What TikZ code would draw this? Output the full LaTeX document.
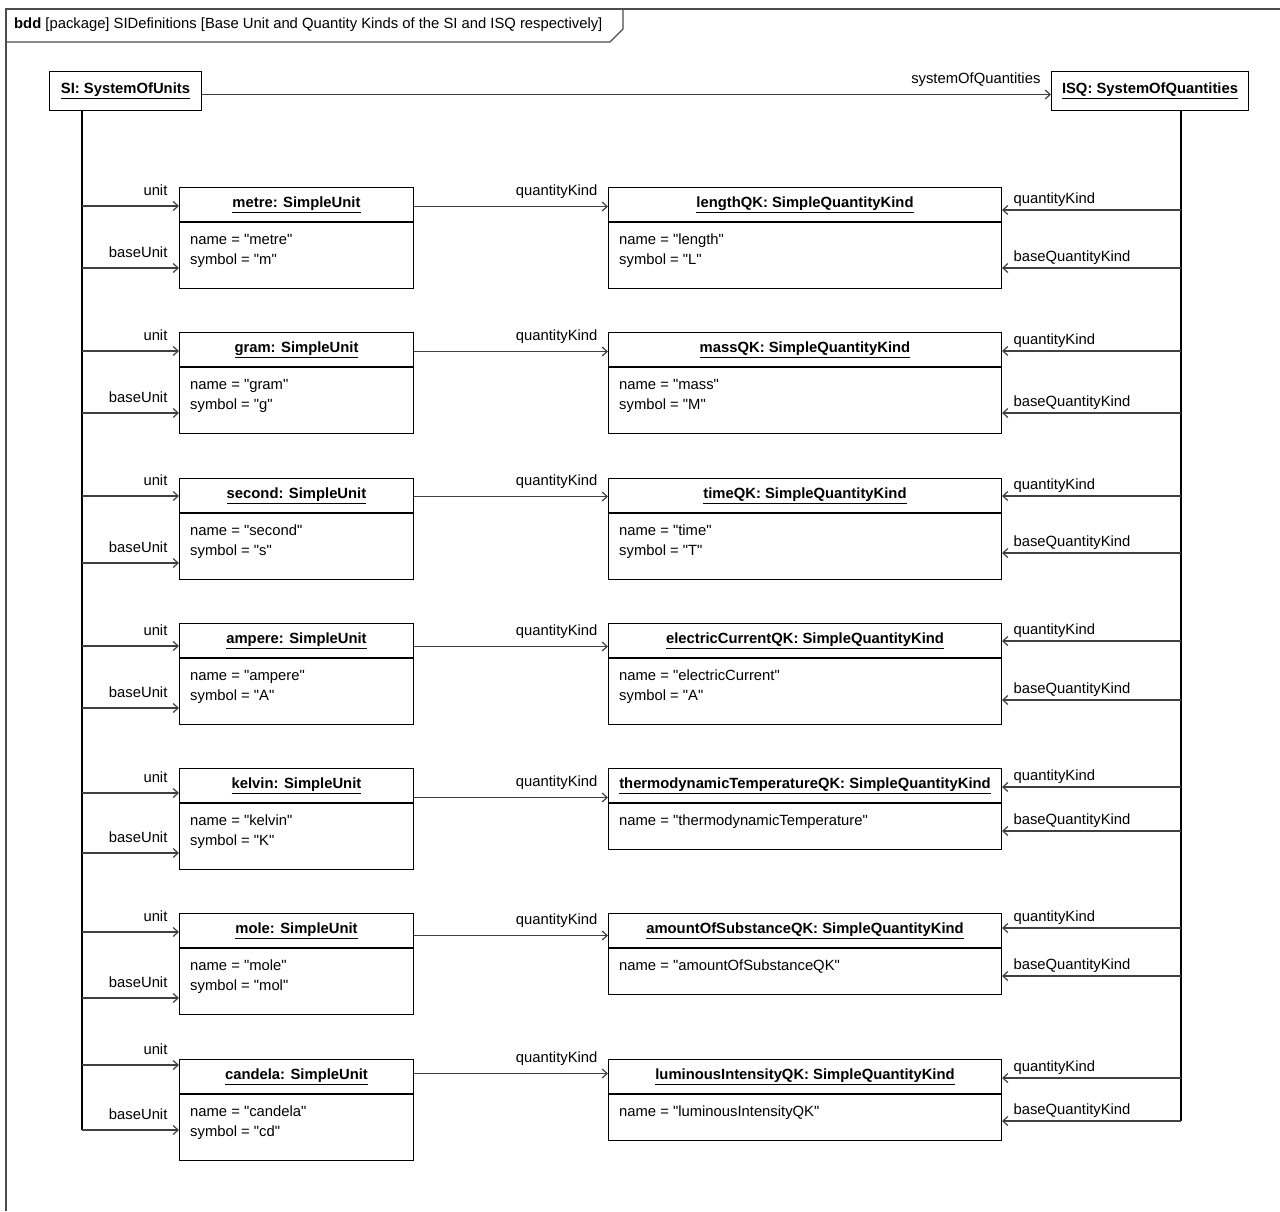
\documentclass[tikz,border=0pt]{standalone}
\usepackage{fontspec}
\newfontfamily\dgface{Liberation Sans}
\usetikzlibrary{positioning,arrows.meta}
\newcommand\dgfont{\dgface\fontsize{14.8}{20}\selectfont}

\begin{document}
\begin{tikzpicture}[x=1pt, y=-1pt,
    uhead/.style={draw, line width=1pt, anchor=north west, minimum width=234pt, minimum height=34pt, inner sep=0pt, font=\dgfont\bfseries},
    ubody/.style={draw, line width=1pt, minimum width=234pt, minimum height=66pt, inner sep=0pt},
    qhead/.style={uhead, minimum width=393pt},
    qbody/.style={ubody, minimum width=393pt},
    objbox/.style={draw, line width=1pt, anchor=north west, minimum height=39pt, inner sep=0pt, font=\dgfont\bfseries},
    attr/.style={align=left, inner sep=0pt, font=\dgfont},
    lab/.style={inner sep=0pt, text height=10pt, text depth=3pt, font=\dgfont},
    assoc/.style={draw=black!75, line width=1.2pt, -{Straight Barb[length=5pt,width=9pt]}},
    trunk/.style={line width=2pt}]
\useasboundingbox (0,0) rectangle (1280,1211);

\draw[black!70, line width=1.3pt] (1280,9) -- (6,9) -- (6,1211);
\draw[black!70, line width=1.3pt] (6,42) -- (610,42) -- (623,29) -- (623,9);
\node[lab, anchor=west] (title) at (14,25) {\textbf{bdd} [package] SIDefinitions [Base Unit and Quantity Kinds of the SI and ISQ respectively]};

\node[objbox, minimum width=152pt] (si) at (49,71) {\underline{SI: SystemOfUnits}};
\node[objbox, minimum width=197pt] (isq) at (1051,71) {\underline{ISQ: SystemOfQuantities}};
\draw[assoc] ([yshift=-3.5pt]si.east) -- ([yshift=-3.5pt]isq.west) node[lab, above left=7pt and 10pt] {systemOfQuantities};

\node[uhead] (metre) at (179,187) {\underline{metre: SimpleUnit}};
\node[ubody, below=0pt of metre] (metreB) {};
\node[attr, below right=12pt and 11pt of metreB.north west] (metreA) {name = "metre"\\symbol = "m"};
\node[qhead] (lengthQK) at (608,187) {\underline{lengthQK: SimpleQuantityKind}};
\node[qbody, below=0pt of lengthQK] (lengthQKB) {};
\node[attr, below right=12pt and 11pt of lengthQKB.north west] (lengthQKA) {name = "length"\\symbol = "L"};

\node[uhead] (gram) at (179,332) {\underline{gram: SimpleUnit}};
\node[ubody, below=0pt of gram] (gramB) {};
\node[attr, below right=12pt and 11pt of gramB.north west] (gramA) {name = "gram"\\symbol = "g"};
\node[qhead] (massQK) at (608,332) {\underline{massQK: SimpleQuantityKind}};
\node[qbody, below=0pt of massQK] (massQKB) {};
\node[attr, below right=12pt and 11pt of massQKB.north west] (massQKA) {name = "mass"\\symbol = "M"};

\node[uhead] (second) at (179,478) {\underline{second: SimpleUnit}};
\node[ubody, below=0pt of second] (secondB) {};
\node[attr, below right=12pt and 11pt of secondB.north west] (secondA) {name = "second"\\symbol = "s"};
\node[qhead] (timeQK) at (608,478) {\underline{timeQK: SimpleQuantityKind}};
\node[qbody, below=0pt of timeQK] (timeQKB) {};
\node[attr, below right=12pt and 11pt of timeQKB.north west] (timeQKA) {name = "time"\\symbol = "T"};

\node[uhead] (ampere) at (179,623) {\underline{ampere: SimpleUnit}};
\node[ubody, below=0pt of ampere] (ampereB) {};
\node[attr, below right=12pt and 11pt of ampereB.north west] (ampereA) {name = "ampere"\\symbol = "A"};
\node[qhead] (currentQK) at (608,623) {\underline{electricCurrentQK: SimpleQuantityKind}};
\node[qbody, below=0pt of currentQK] (currentQKB) {};
\node[attr, below right=12pt and 11pt of currentQKB.north west] (currentQKA) {name = "electricCurrent"\\symbol = "A"};

\node[uhead] (kelvin) at (179,768) {\underline{kelvin: SimpleUnit}};
\node[ubody, below=0pt of kelvin] (kelvinB) {};
\node[attr, below right=12pt and 11pt of kelvinB.north west] (kelvinA) {name = "kelvin"\\symbol = "K"};
\node[qhead] (tempQK) at (608,768) {\underline{thermodynamicTemperatureQK: SimpleQuantityKind}};
\node[qbody, minimum height=46pt, below=0pt of tempQK] (tempQKB) {};
\node[attr, below right=12pt and 11pt of tempQKB.north west] (tempQKA) {name = "thermodynamicTemperature"};

\node[uhead] (mole) at (179,913) {\underline{mole: SimpleUnit}};
\node[ubody, below=0pt of mole] (moleB) {};
\node[attr, below right=12pt and 11pt of moleB.north west] (moleA) {name = "mole"\\symbol = "mol"};
\node[qhead] (amountQK) at (608,913) {\underline{amountOfSubstanceQK: SimpleQuantityKind}};
\node[qbody, minimum height=46pt, below=0pt of amountQK] (amountQKB) {};
\node[attr, below right=12pt and 11pt of amountQKB.north west] (amountQKA) {name = "amountOfSubstanceQK"};

\node[uhead] (candela) at (179,1059) {\underline{candela: SimpleUnit}};
\node[ubody, below=0pt of candela] (candelaB) {};
\node[attr, below right=12pt and 11pt of candelaB.north west] (candelaA) {name = "candela"\\symbol = "cd"};
\node[qhead] (lumQK) at (608,1059) {\underline{luminousIntensityQK: SimpleQuantityKind}};
\node[qbody, minimum height=46pt, below=0pt of lumQK] (lumQKB) {};
\node[attr, below right=12pt and 11pt of lumQKB.north west] (lumQKA) {name = "luminousIntensityQK"};

\coordinate (siU1) at (82,206);   \coordinate (siB1) at (82,268);
\coordinate (siU2) at (82,351);   \coordinate (siB2) at (82,413);
\coordinate (siU3) at (82,496);   \coordinate (siB3) at (82,563);
\coordinate (siU4) at (82,646);   \coordinate (siB4) at (82,708);
\coordinate (siU5) at (82,793);   \coordinate (siB5) at (82,853);
\coordinate (siU6) at (82,932);   \coordinate (siB6) at (82,998);
\coordinate (siU7) at (82,1065);  \coordinate (siB7) at (82,1130);
\coordinate (isqQ1) at (1181,210);  \coordinate (isqB1) at (1181,268);
\coordinate (isqQ2) at (1181,351);  \coordinate (isqB2) at (1181,413);
\coordinate (isqQ3) at (1181,496);  \coordinate (isqB3) at (1181,553);
\coordinate (isqQ4) at (1181,641);  \coordinate (isqB4) at (1181,700);
\coordinate (isqQ5) at (1181,787);  \coordinate (isqB5) at (1181,831);
\coordinate (isqQ6) at (1181,928);  \coordinate (isqB6) at (1181,976);
\coordinate (isqQ7) at (1181,1078); \coordinate (isqB7) at (1181,1121);

\draw[trunk] (si.south -| siU1) -- (siB7);
\draw[trunk] (isq.south -| isqQ1) -- (isqB7);

\draw[assoc] (siU1) -- (siU1 -| metre.west) node[lab, above left=7pt and 11pt] {unit};
\draw[assoc] (siB1) -- (siB1 -| metreB.west) node[lab, above left=7pt and 11pt] {baseUnit};
\draw[assoc] (siU2) -- (siU2 -| gram.west) node[lab, above left=7pt and 11pt] {unit};
\draw[assoc] (siB2) -- (siB2 -| gramB.west) node[lab, above left=7pt and 11pt] {baseUnit};
\draw[assoc] (siU3) -- (siU3 -| second.west) node[lab, above left=7pt and 11pt] {unit};
\draw[assoc] (siB3) -- (siB3 -| secondB.west) node[lab, above left=7pt and 11pt] {baseUnit};
\draw[assoc] (siU4) -- (siU4 -| ampere.west) node[lab, above left=7pt and 11pt] {unit};
\draw[assoc] (siB4) -- (siB4 -| ampereB.west) node[lab, above left=7pt and 11pt] {baseUnit};
\draw[assoc] (siU5) -- (siU5 -| kelvin.west) node[lab, above left=7pt and 11pt] {unit};
\draw[assoc] (siB5) -- (siB5 -| kelvinB.west) node[lab, above left=7pt and 11pt] {baseUnit};
\draw[assoc] (siU6) -- (siU6 -| mole.west) node[lab, above left=7pt and 11pt] {unit};
\draw[assoc] (siB6) -- (siB6 -| moleB.west) node[lab, above left=7pt and 11pt] {baseUnit};
\draw[assoc] (siU7) -- (siU7 -| candela.west) node[lab, above left=7pt and 11pt] {unit};
\draw[assoc] (siB7) -- (siB7 -| candelaB.west) node[lab, above left=7pt and 11pt] {baseUnit};

\draw[assoc] ([yshift=-2pt]metre.east) -- ([yshift=-2pt]lengthQK.west) node[lab, above left=7pt and 10pt] {quantityKind};
\draw[assoc] ([yshift=-2pt]gram.east) -- ([yshift=-2pt]massQK.west) node[lab, above left=7pt and 10pt] {quantityKind};
\draw[assoc] ([yshift=-1pt]second.east) -- ([yshift=-1pt]timeQK.west) node[lab, above left=7pt and 10pt] {quantityKind};
\draw[assoc] ([yshift=-6pt]ampere.east) -- ([yshift=-6pt]currentQK.west) node[lab, above left=7pt and 10pt] {quantityKind};
\draw[assoc] ([yshift=-12pt]kelvin.east) -- ([yshift=-12pt]tempQK.west) node[lab, above left=7pt and 10pt] {quantityKind};
\draw[assoc] ([yshift=-5pt]mole.east) -- ([yshift=-5pt]amountQK.west) node[lab, above left=7pt and 10pt] {quantityKind};
\draw[assoc] ([yshift=3pt]candela.east) -- ([yshift=3pt]lumQK.west) node[lab, above left=7pt and 10pt] {quantityKind};

\draw[assoc] (isqQ1) -- (isqQ1 -| lengthQK.east) node[lab, above right=3pt and 11pt] {quantityKind};
\draw[assoc] (isqB1) -- (isqB1 -| lengthQKB.east) node[lab, above right=3pt and 11pt] {baseQuantityKind};
\draw[assoc] (isqQ2) -- (isqQ2 -| massQK.east) node[lab, above right=3pt and 11pt] {quantityKind};
\draw[assoc] (isqB2) -- (isqB2 -| massQKB.east) node[lab, above right=3pt and 11pt] {baseQuantityKind};
\draw[assoc] (isqQ3) -- (isqQ3 -| timeQK.east) node[lab, above right=3pt and 11pt] {quantityKind};
\draw[assoc] (isqB3) -- (isqB3 -| timeQKB.east) node[lab, above right=3pt and 11pt] {baseQuantityKind};
\draw[assoc] (isqQ4) -- (isqQ4 -| currentQK.east) node[lab, above right=3pt and 11pt] {quantityKind};
\draw[assoc] (isqB4) -- (isqB4 -| currentQKB.east) node[lab, above right=3pt and 11pt] {baseQuantityKind};
\draw[assoc] (isqQ5) -- (isqQ5 -| tempQK.east) node[lab, above right=3pt and 11pt] {quantityKind};
\draw[assoc] (isqB5) -- (isqB5 -| tempQKB.east) node[lab, above right=3pt and 11pt] {baseQuantityKind};
\draw[assoc] (isqQ6) -- (isqQ6 -| amountQK.east) node[lab, above right=3pt and 11pt] {quantityKind};
\draw[assoc] (isqB6) -- (isqB6 -| amountQKB.east) node[lab, above right=3pt and 11pt] {baseQuantityKind};
\draw[assoc] (isqQ7) -- (isqQ7 -| lumQK.east) node[lab, above right=3pt and 11pt] {quantityKind};
\draw[assoc] (isqB7) -- (isqB7 -| lumQKB.east) node[lab, above right=3pt and 11pt] {baseQuantityKind};
\end{tikzpicture}
\end{document}
